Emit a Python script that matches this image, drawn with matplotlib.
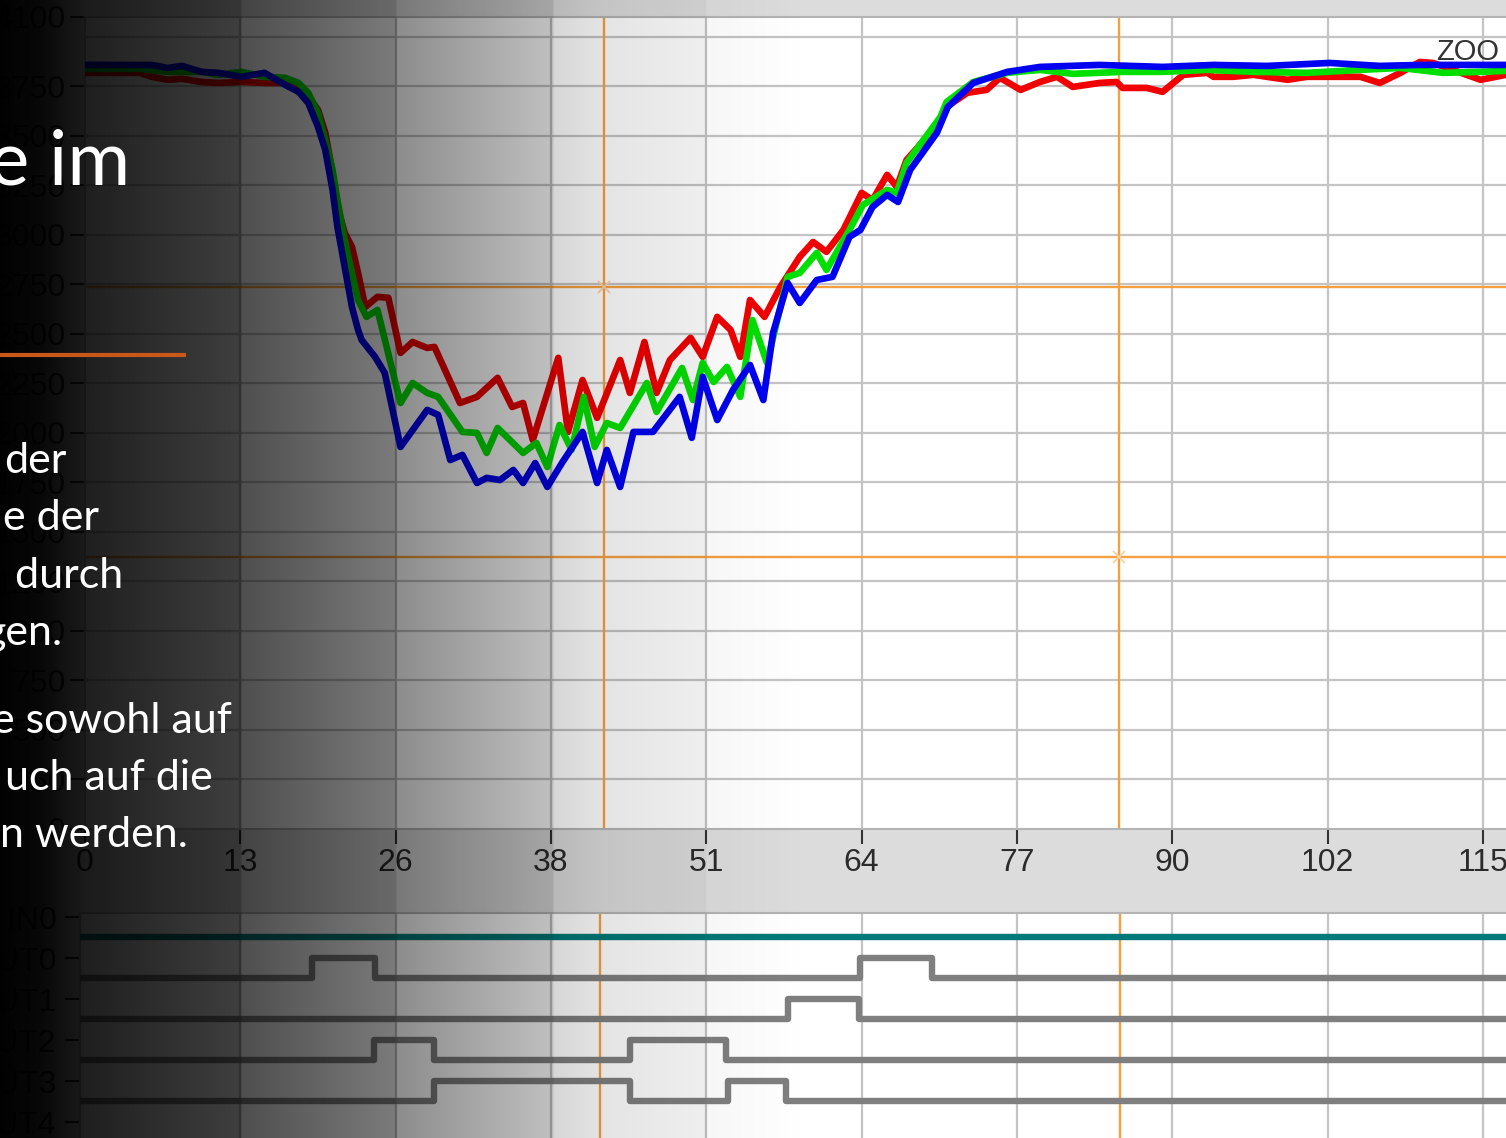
import matplotlib.pyplot as plt
import numpy as np

W, H = 1506, 1138

# measured channels: (sample, value)
red = [(0, 3818), (4.5, 3818), (5.5, 3798), (6.8, 3783), (8.0, 3788), (9.6, 3772), (11.0, 3767),
       (12.9, 3772), (14.8, 3767), (16.5, 3767), (17.6, 3747), (18.4, 3697), (19.2, 3631), (19.8, 3515),
       (20.4, 3313), (20.8, 3141), (21.4, 3010), (22.0, 2939), (22.5, 2808), (23.1, 2636), (24.1, 2687),
       (25.0, 2682), (26.0, 2404), (27.0, 2459), (28.2, 2429), (28.8, 2434), (30.9, 2151), (32.3, 2182),
       (34.0, 2278), (35.2, 2131), (36.1, 2151), (36.9, 1964), (39.0, 2379), (39.8, 2005), (41.0, 2267),
       (42.2, 2076), (44.1, 2368), (44.9, 2202), (46.1, 2459), (47.1, 2202), (48.2, 2368), (49.9, 2480),
       (50.9, 2384), (52.1, 2586), (53.2, 2520), (54.0, 2384), (54.8, 2671), (56.0, 2586), (57.3, 2737),
       (58.9, 2889), (60.0, 2964), (61.1, 2914), (62.5, 3025), (64.0, 3212), (64.9, 3176), (66.1, 3303),
       (66.9, 3242), (67.7, 3378), (69.9, 3530), (71.0, 3646), (72.7, 3717), (74.3, 3732), (75.4, 3793),
       (77.1, 3732), (78.7, 3772), (80.1, 3798), (81.4, 3747), (83.6, 3767), (85.0, 3772), (85.5, 3742),
       (87.5, 3742), (88.8, 3722), (90.5, 3808), (92.5, 3818), (93.0, 3798), (94.6, 3798), (96.3, 3808),
       (97.4, 3798), (99.1, 3783), (100.7, 3798), (105.1, 3798), (106.7, 3767), (108.4, 3818),
       (110.0, 3873), (111.1, 3868), (115.0, 3783), (117.1, 3808)]
green = [(0, 3838), (4.5, 3838), (6.8, 3823), (8.0, 3823), (9.6, 3823), (11.0, 3808), (12.9, 3823),
         (14.8, 3798), (16.5, 3793), (17.6, 3767), (18.4, 3717), (19.2, 3616), (19.8, 3479), (20.4, 3328),
         (20.8, 3176), (21.4, 2974), (22.0, 2808), (22.5, 2671), (23.2, 2586), (24.1, 2621), (26.0, 2151),
         (27.0, 2252), (28.2, 2202), (29.1, 2182), (31.1, 2005), (32.3, 2000), (33.1, 1899), (34.0, 2025),
         (36.1, 1899), (37.2, 1949), (38.1, 1828), (39.1, 2040), (40.1, 1914), (41.1, 2182), (42.0, 1929),
         (43.0, 2050), (44.1, 2025), (46.3, 2252), (47.1, 2106), (49.2, 2328), (50.1, 2166), (50.9, 2353),
         (51.8, 2257), (52.9, 2333), (54.0, 2182), (55.0, 2570), (56.2, 2353), (57.9, 2788), (58.9, 2808),
         (60.3, 2909), (61.1, 2823), (63.0, 3025), (64.1, 3151), (66.1, 3227), (66.9, 3212), (67.7, 3363),
         (70.5, 3596), (71.0, 3671), (73.2, 3772), (76.0, 3818), (78.7, 3833), (81.4, 3813), (85.5, 3823),
         (88.8, 3823), (92.5, 3833), (96.3, 3823), (100.7, 3818), (105.1, 3833), (108.4, 3843),
         (111.9, 3818), (115.0, 3823), (117.1, 3828)]
blue = [(0, 3858), (5.5, 3858), (6.8, 3843), (8.0, 3853), (9.6, 3823), (11.0, 3818), (12.9, 3798),
        (14.8, 3818), (16.5, 3757), (17.6, 3722), (18.4, 3666), (19.2, 3545), (19.8, 3429), (20.4, 3227),
        (20.8, 3040), (21.4, 2838), (22.0, 2636), (22.5, 2520), (22.8, 2469), (23.9, 2384), (24.7, 2303),
        (26.0, 1929), (28.2, 2116), (29.1, 2091), (30.1, 1863), (31.1, 1889), (32.3, 1747), (33.1, 1773),
        (34.2, 1762), (35.3, 1813), (36.1, 1747), (37.1, 1848), (38.1, 1727), (39.3, 1848), (41.0, 2005),
        (42.2, 1747), (43.0, 1914), (44.1, 1727), (45.2, 2005), (46.8, 2005), (49.0, 2182), (50.0, 1975),
        (50.9, 2283), (52.1, 2065), (53.4, 2217), (54.8, 2343), (55.9, 2166), (56.7, 2505), (57.9, 2757),
        (58.9, 2656), (60.3, 2772), (61.6, 2788), (63.0, 2990), (63.9, 3025), (64.9, 3141), (66.1, 3202),
        (67.0, 3166), (68.0, 3328), (70.2, 3515), (71.1, 3646), (73.2, 3767), (76.0, 3823), (78.7, 3848),
        (83.6, 3858), (88.8, 3848), (93.0, 3858), (97.4, 3853), (102.6, 3868), (106.7, 3853),
        (110.0, 3858), (115.0, 3858), (117.1, 3858)]

xtick_pos = [0, 12.8, 25.6, 38.4, 51.2, 64.0, 76.8, 89.6, 102.4, 115.2]
xtick_lbl = ['0', '13', '26', '38', '51', '64', '77', '90', '102', '115']
ytick_pos = [0, 250, 500, 750, 1000, 1250, 1500, 1750, 2000, 2250, 2500, 2750, 3000, 3250, 3500, 3750, 4100]
ytick_lbl = ['0', '250', '500', '750', '1000', '1250', '1500', '1750', '2000', '2250', '2500', '2750',
             '3000', '3250', '3500', '3750', '4100']
grid_y = [250, 500, 750, 1000, 1250, 1500, 1750, 2000, 2250, 2500, 2750, 3000, 3250, 3500, 3750, 4000]

# cursors (top panel) and their x in the digital panel
cursor_x = [42.77, 85.2]
cursor_y = [2737, 1374]
cursor_x_dig = [42.44, 85.3]

# digital channels
dig_names = ['IN0', 'OUT0', 'OUT1', 'OUT2', 'OUT3', 'OUT4']
out0_pulses = [(18.7, 23.9), (63.9, 69.8)]
out1_pulses = [(57.9, 63.8)]
out2_pulses = [(23.8, 28.8), (44.9, 52.8)]
out3_pulses = [(28.8, 44.9), (53.0, 57.8)]

slide_title = 'e im'
slide_lines = ['der', 'e der', ' durch', 'gen.', 'e sowohl auf', 'uch auf die', 'n werden.']

plt.rcParams['font.family'] = ['Liberation Sans Narrow', 'Liberation Sans', 'DejaVu Sans']

fig = plt.figure(figsize=(W / 100, H / 100), dpi=100, facecolor='#dcdcdc')


def px_box(x0, y0, x1, y1):
    return [x0 / W, 1 - y1 / H, (x1 - x0) / W, (y1 - y0) / H]


# ---- analog panel
ax = fig.add_axes(px_box(85, 17, 1506, 829))
ax.set_facecolor('white')
ax.set_xlim(0, 117.1)
ax.set_ylim(0, 4100)
for gx in xtick_pos[1:]:
    ax.axvline(gx, color='#c4c4c4', lw=1.6, zorder=0)
for gy in grid_y:
    ax.axhline(gy, color='#c4c4c4', lw=1.6, zorder=0)

for series, col in [(red, '#f00000'), (green, '#00e000'), (blue, '#0000f0')]:
    sx, sy = np.array(series).T
    ax.plot(sx, sy, color=col, lw=4.8, solid_joinstyle='round', zorder=3)

for cx in cursor_x:
    ax.axvline(cx, color='#f5a040', lw=1.7, zorder=2)
for cy in cursor_y:
    ax.axhline(cy, color='#f5a040', lw=1.7, zorder=2)
ax.plot(cursor_x, cursor_y, ls='none', marker='x', ms=9, mew=1.3, color='#f8d2a8', zorder=4)

ax.set_xticks(xtick_pos)
ax.set_xticklabels(xtick_lbl)
ax.set_yticks(ytick_pos)
ax.set_yticklabels(ytick_lbl)
ax.tick_params(length=11, width=1.5, color='#333333', labelcolor='#2b2b2b', labelsize=23, pad=3)
ax.spines['right'].set_visible(False)
for s in ['left', 'top', 'bottom']:
    ax.spines[s].set_color('#b4b4b4')
    ax.spines[s].set_linewidth(1.5)

fig.text(1436 / W, 1 - 52 / H, 'ZOO', ha='left', va='center', fontsize=21,
         family=['Liberation Sans', 'DejaVu Sans'], color='#333333')

# ---- digital panel
bx = fig.add_axes(px_box(80, 913, 1506, 1138))
bx.set_facecolor('white')
bx.set_xlim(-0.41, 117.1)
bx.set_ylim(-5.39, 0.1)
for gx in xtick_pos[1:]:
    bx.axvline(gx, color='#c4c4c4', lw=1.6, zorder=0)
for cx in cursor_x_dig:
    bx.axvline(cx, color='#f5a040', lw=1.7, zorder=2)


def step_trace(pulses, level):
    xs, ys = [-1], [level - 0.49]
    for a, b in pulses:
        xs += [a, a, b, b]
        ys += [level - 0.49, level, level, level - 0.49]
    xs.append(130)
    ys.append(level - 0.49)
    return xs, ys


bx.plot([-1, 130], [-0.49, -0.49], color='#007a78', lw=4.6, zorder=3)
for k, pulses in enumerate([out0_pulses, out1_pulses, out2_pulses, out3_pulses]):
    tx, ty = step_trace(pulses, -(k + 1))
    bx.plot(tx, ty, color='#7f7f7f', lw=4.6, solid_joinstyle='round', zorder=3)

bx.set_xticks([])
bx.set_yticks([-i for i in range(len(dig_names))])
bx.set_yticklabels(dig_names)
bx.tick_params(length=11, width=1.5, color='#333333', labelcolor='#2b2b2b', labelsize=23, pad=6)
bx.spines['right'].set_visible(False)
bx.spines['bottom'].set_visible(False)
for s in ['left', 'top']:
    bx.spines[s].set_color('#b4b4b4')
    bx.spines[s].set_linewidth(1.5)

# ---- dark slide gradient over the left part
grad_px = [0, 40, 85, 240, 242, 395, 397, 552, 554, 604, 705, 707, 800, 850, W]
grad_lum = [0, 8, 30, 62, 78, 122, 140, 191, 214, 228, 238, 246, 254, 255, 255]
lum = np.interp(np.arange(W), grad_px, grad_lum)
rgba = np.zeros((1, W, 4))
rgba[..., 3] = 1 - lum / 255.0

ov = fig.add_axes([0, 0, 1, 1], zorder=10)
ov.set_xlim(0, W)
ov.set_ylim(H, 0)
ov.axis('off')
ov.imshow(rgba, extent=(0, W, H, 0), aspect='auto', interpolation='bilinear')

ov.plot([0, 186], [355, 355], color='#c9581b', lw=3, solid_capstyle='butt')
ov.text(130, 184, slide_title, ha='right', va='baseline', color='white', fontsize=55,
        family=['Lato', 'DejaVu Sans'])
line_right = [67, 99, 123, 63, 232, 213, 188]
line_base = [473, 530, 588, 645, 733, 790, 847]
for txt, xr, yb in zip(slide_lines, line_right, line_base):
    ov.text(xr, yb, txt, ha='right', va='baseline', color='white', fontsize=31,
            family=['Lato', 'DejaVu Sans'])

fig.savefig('out.png', dpi=100, facecolor=fig.get_facecolor())
